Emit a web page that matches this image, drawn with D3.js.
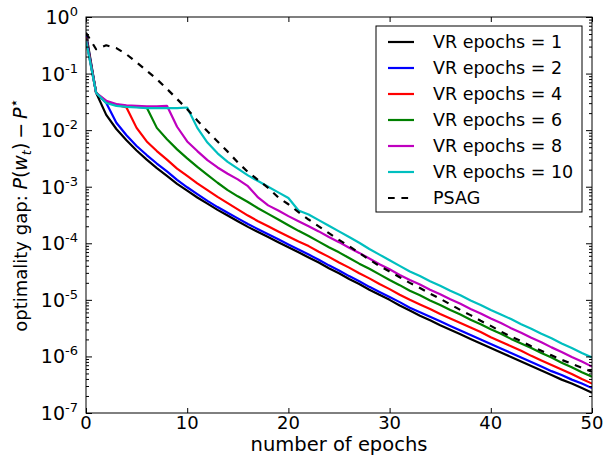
<!DOCTYPE html>
<html lang="en">
<head>
<meta charset="UTF-8">
<title>VR epochs</title>
<script src="https://cdn.jsdelivr.net/npm/d3@7"></script>
<style>
    body { margin: 0; background: #fff; }
    svg text { font-family: "DejaVu Sans", sans-serif; fill: #000; }
    .tick line { stroke: #000; stroke-width: 1; }
</style>
</head>
<body>
<div class="chart"></div>
<script>
// epochs on the x axis
var epochs = [0,1,2,3,4,5,6,7,8,9,10,11,12,13,14,15,16,17,18,19,20,21,22,23,24,25,
    26,27,28,29,30,31,32,33,34,35,36,37,38,39,40,41,42,43,44,45,46,47,48,49,50];

// log10 of the optimality gap
var vr1 = [-0.28,-1.34,-1.73,-1.98,-2.18,-2.36,-2.52,-2.67,-2.81,-2.95,-3.07,-3.19,-3.30,-3.41,-3.51,-3.61,-3.71,
    -3.80,-3.89,-3.98,-4.07,-4.16,-4.25,-4.34,-4.44,-4.53,-4.63,-4.72,-4.82,-4.91,-5.00,-5.10,-5.19,-5.28,
    -5.36,-5.45,-5.53,-5.61,-5.69,-5.77,-5.85,-5.93,-6.01,-6.09,-6.17,-6.25,-6.33,-6.41,-6.48,-6.56,-6.64];
var vr2 = [-0.33,-1.34,-1.52,-1.87,-2.09,-2.28,-2.44,-2.59,-2.73,-2.88,-3.01,-3.13,-3.25,-3.36,-3.46,-3.56,-3.66,
    -3.75,-3.84,-3.93,-4.02,-4.11,-4.20,-4.29,-4.39,-4.48,-4.58,-4.67,-4.77,-4.86,-4.95,-5.04,-5.14,-5.22,
    -5.30,-5.38,-5.46,-5.54,-5.62,-5.70,-5.78,-5.86,-5.94,-6.02,-6.10,-6.18,-6.26,-6.33,-6.41,-6.48,-6.56];
var vr4 = [-0.36,-1.34,-1.50,-1.55,-1.60,-1.96,-2.20,-2.37,-2.52,-2.68,-2.81,-2.94,-3.06,-3.18,-3.29,-3.40,-3.51,
    -3.61,-3.70,-3.79,-3.88,-3.97,-4.05,-4.15,-4.24,-4.34,-4.43,-4.53,-4.62,-4.72,-4.81,-4.91,-5.00,-5.08,
    -5.16,-5.25,-5.33,-5.41,-5.49,-5.57,-5.66,-5.74,-5.82,-5.90,-5.99,-6.07,-6.15,-6.23,-6.31,-6.40,-6.48];
var vr6 = [-0.38,-1.34,-1.50,-1.55,-1.58,-1.59,-1.60,-1.96,-2.16,-2.34,-2.50,-2.65,-2.79,-2.93,-3.06,-3.17,-3.27,
    -3.38,-3.48,-3.58,-3.68,-3.78,-3.87,-3.97,-4.07,-4.16,-4.26,-4.36,-4.45,-4.55,-4.65,-4.74,-4.84,-4.92,
    -5.01,-5.09,-5.18,-5.26,-5.35,-5.43,-5.52,-5.60,-5.69,-5.77,-5.85,-5.94,-6.02,-6.11,-6.19,-6.28,-6.36];
var vr8 = [-0.40,-1.34,-1.48,-1.54,-1.56,-1.57,-1.58,-1.58,-1.57,-1.94,-2.20,-2.37,-2.53,-2.66,-2.77,-2.87,-2.99,
    -3.19,-3.33,-3.42,-3.52,-3.61,-3.70,-3.79,-3.89,-3.98,-4.08,-4.17,-4.27,-4.37,-4.46,-4.56,-4.65,-4.73,
    -4.82,-4.90,-4.99,-5.07,-5.16,-5.24,-5.33,-5.41,-5.50,-5.58,-5.67,-5.75,-5.84,-5.92,-6.01,-6.09,-6.18];
var vr10 = [-0.42,-1.34,-1.52,-1.57,-1.59,-1.60,-1.61,-1.61,-1.61,-1.61,-1.60,-1.96,-2.22,-2.41,-2.56,-2.68,-2.80,
    -2.90,-3.00,-3.10,-3.20,-3.42,-3.49,-3.59,-3.69,-3.79,-3.89,-3.99,-4.10,-4.20,-4.30,-4.40,-4.50,-4.58,
    -4.67,-4.75,-4.84,-4.92,-5.01,-5.09,-5.18,-5.26,-5.34,-5.43,-5.51,-5.60,-5.68,-5.77,-5.85,-5.94,-6.02];
var psag = [-0.28,-0.57,-0.50,-0.55,-0.66,-0.80,-0.95,-1.10,-1.27,-1.45,-1.63,-1.83,-2.02,-2.20,-2.38,-2.57,-2.74,
    -2.88,-3.02,-3.19,-3.31,-3.45,-3.58,-3.70,-3.82,-3.94,-4.05,-4.17,-4.29,-4.40,-4.50,-4.60,-4.70,-4.79,
    -4.89,-4.98,-5.08,-5.18,-5.27,-5.37,-5.46,-5.56,-5.65,-5.73,-5.82,-5.90,-5.98,-6.06,-6.13,-6.20,-6.27];

var seriesNames = ['VR epochs = 1', 'VR epochs = 2', 'VR epochs = 4', 'VR epochs = 6',
    'VR epochs = 8', 'VR epochs = 10', 'PSAG'];
var seriesColors = ['#000000', '#0000ff', '#ff0000', '#008000', '#bf00bf', '#00bfbf', '#000000'];
var seriesValues = [vr1, vr2, vr4, vr6, vr8, vr10, psag];

var xTicks = [0, 10, 20, 30, 40, 50];
var yExponents = [0, -1, -2, -3, -4, -5, -6, -7];

var margin = { top: 17, right: 14, bottom: 43, left: 86 };
var width = 606 - margin.left - margin.right;
var height = 456 - margin.top - margin.bottom;

var svg = d3.select('.chart').append('svg')
    .attr('width', 606)
    .attr('height', 456);
var g = svg.append('g').attr('transform', 'translate(' + margin.left + ',' + margin.top + ')');

var x = d3.scaleLinear().domain([0, 50]).range([0, width]);
var y = d3.scaleLog().domain([1e-7, 1]).range([height, 0]);

var majors = yExponents.map(function(e) { return Math.pow(10, e); });
var minors = [];
yExponents.slice(1).forEach(function(e) {
    for (var k = 2; k <= 9; k++) minors.push(k * Math.pow(10, e));
});

g.append('defs').append('clipPath').attr('id', 'clip')
    .append('rect').attr('width', width).attr('height', height);

var line = d3.line()
    .x(function(d) { return x(d[0]); })
    .y(function(d) { return y(Math.pow(10, d[1])); });

var lines = g.append('g').attr('clip-path', 'url(#clip)');
seriesValues.forEach(function(vals, i) {
    lines.append('path')
        .datum(epochs.map(function(e, j) { return [e, vals[j]]; }))
        .attr('d', line)
        .attr('fill', 'none')
        .attr('stroke', seriesColors[i])
        .attr('stroke-width', 2.2)
        .attr('stroke-linejoin', 'round')
        .attr('stroke-dasharray', i === 6 ? '6.7,6.7' : null);
});

// axes, ticks inward on all sides
function noDomain(sel) { sel.select('.domain').remove(); }
g.append('g').attr('transform', 'translate(0,' + height + ')')
    .call(d3.axisBottom(x).tickValues(xTicks).tickSize(-5).tickFormat(''))
    .call(noDomain);
g.append('g')
    .call(d3.axisTop(x).tickValues(xTicks).tickSize(-5).tickFormat(''))
    .call(noDomain);
g.append('g')
    .call(d3.axisLeft(y).tickValues(majors).tickSize(-6).tickFormat(''))
    .call(noDomain);
g.append('g')
    .call(d3.axisLeft(y).tickValues(minors).tickSize(-3).tickFormat(''))
    .call(noDomain);
g.append('g').attr('transform', 'translate(' + width + ',0)')
    .call(d3.axisRight(y).tickValues(majors).tickSize(-6).tickFormat(''))
    .call(noDomain);
g.append('g').attr('transform', 'translate(' + width + ',0)')
    .call(d3.axisRight(y).tickValues(minors).tickSize(-3).tickFormat(''))
    .call(noDomain);

g.append('rect')
    .attr('width', width).attr('height', height)
    .attr('fill', 'none').attr('stroke', '#000').attr('stroke-width', 1);

// tick labels
g.selectAll('text.xt').data(xTicks).enter().append('text')
    .attr('class', 'xt')
    .attr('x', function(d) { return x(d); })
    .attr('y', height + 16)
    .attr('text-anchor', 'middle')
    .style('font-size', '18px')
    .text(function(d) { return d; });

var yt = g.selectAll('text.yt').data(yExponents).enter().append('text')
    .attr('class', 'yt')
    .attr('x', -8)
    .attr('y', function(d) { return y(Math.pow(10, d)) + 7; })
    .attr('text-anchor', 'end')
    .style('font-size', '19px');
yt.append('tspan').text('10');
yt.append('tspan')
    .attr('dy', -8)
    .style('font-size', '13px')
    .text(function(d) { return d === 0 ? '0' : '-' + (-d); });

// axis titles
svg.append('text')
    .attr('x', margin.left + width / 2)
    .attr('y', 451)
    .attr('text-anchor', 'middle')
    .style('font-size', '19.5px')
    .text('number of epochs');

var yl = svg.append('text')
    .attr('transform', 'translate(27,' + (margin.top + height / 2) + ') rotate(-90)')
    .attr('text-anchor', 'middle')
    .style('font-size', '18px');
yl.append('tspan').text('optimality gap: ');
yl.append('tspan').style('font-style', 'italic').style('font-size', '19px').text('P');
yl.append('tspan').style('font-size', '19px').text('(');
yl.append('tspan').style('font-style', 'italic').style('font-size', '19px').text('w');
yl.append('tspan').style('font-style', 'italic').style('font-size', '13px').attr('dy', 4).text('t');
yl.append('tspan').attr('dy', -4).style('font-size', '19px').text(')\u2009\u2212\u2009');
yl.append('tspan').style('font-style', 'italic').style('font-size', '19px').text('P');
yl.append('tspan').style('font-size', '15px').attr('dy', -8).text('\u22c6');

// legend
var legend = svg.append('g').attr('transform', 'translate(376,26)');
legend.append('rect')
    .attr('width', 206).attr('height', 186)
    .attr('fill', '#fff').attr('stroke', '#000').attr('stroke-width', 1);
seriesNames.forEach(function(name, i) {
    var row = legend.append('g').attr('transform', 'translate(0,' + (16 + i * 26) + ')');
    row.append('line')
        .attr('x1', 12).attr('x2', 38)
        .attr('stroke', seriesColors[i])
        .attr('stroke-width', 2.2)
        .attr('stroke-dasharray', i === 6 ? '6.7,6.7' : null);
    row.append('text')
        .attr('x', 57).attr('y', 6)
        .style('font-size', '17.5px')
        .text(name);
});
</script>
</body>
</html>
